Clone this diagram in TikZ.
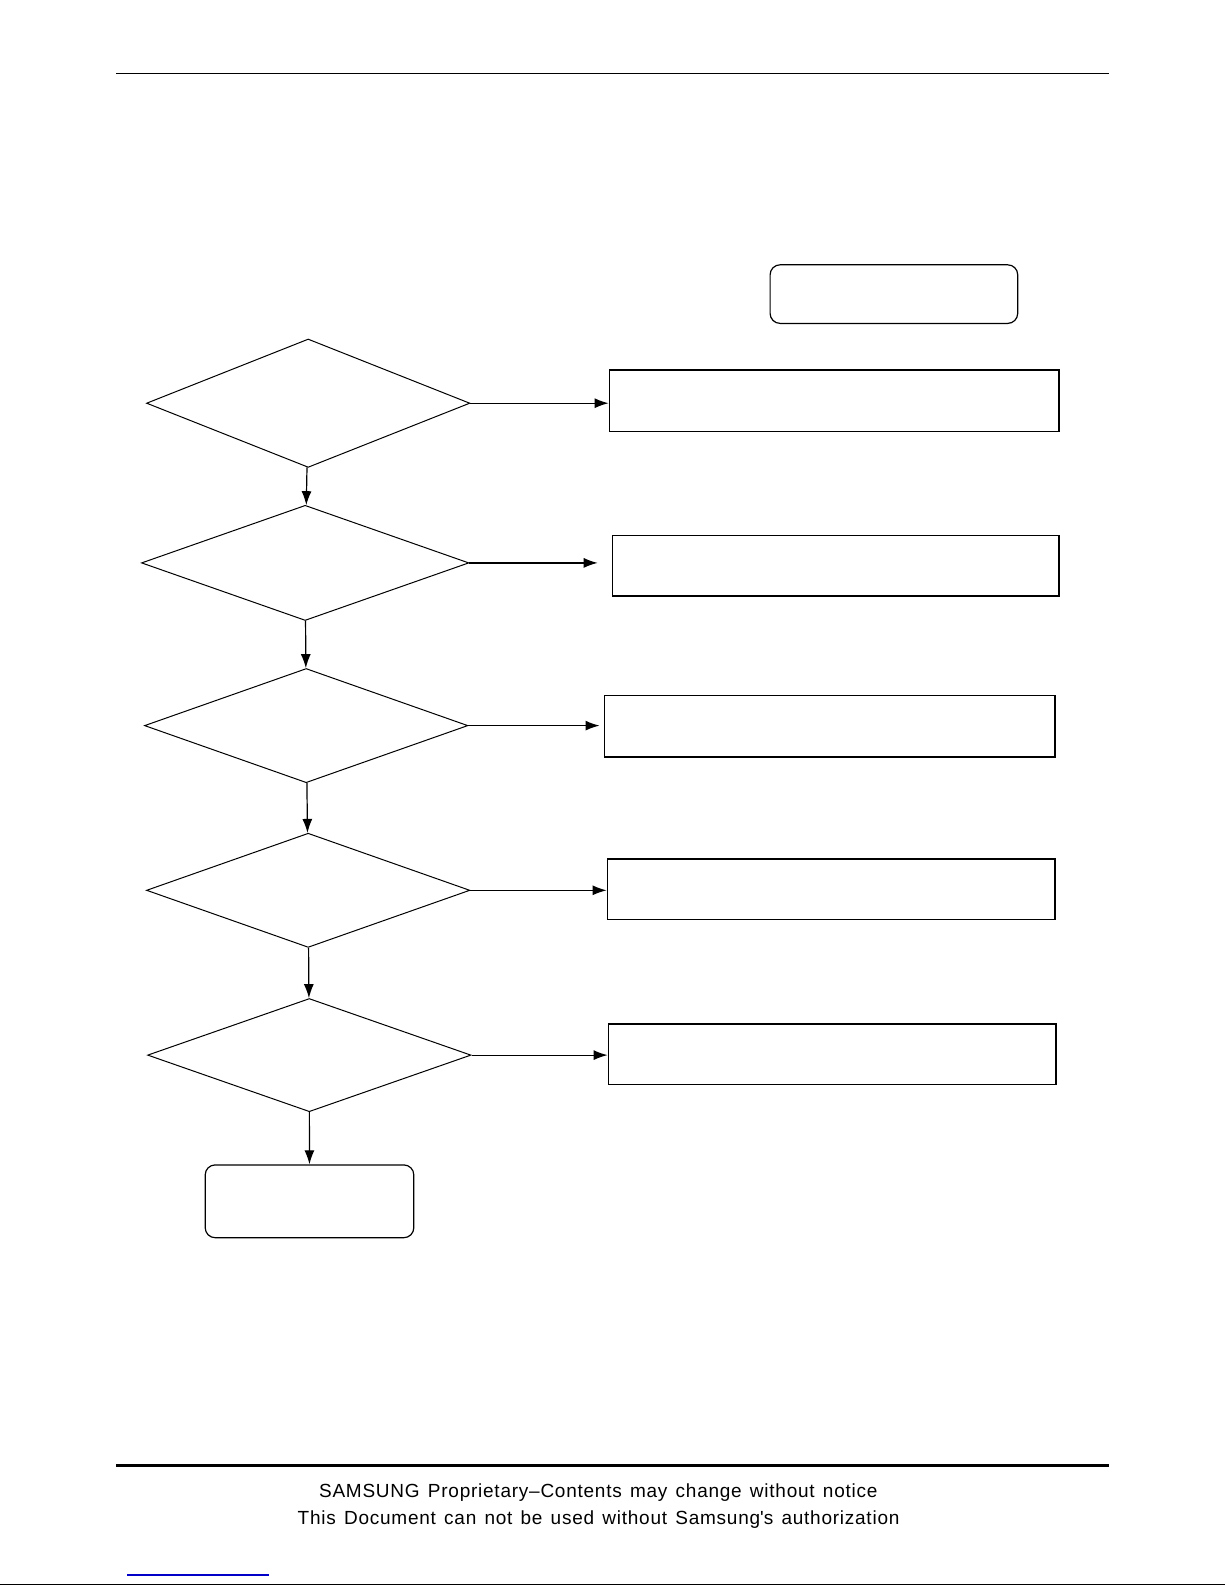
\documentclass[tikz,border=0pt]{standalone}
\usepackage{fontspec}
\setmainfont{Liberation Sans}
\usetikzlibrary{positioning}
\usetikzlibrary{shapes.geometric}
\usetikzlibrary{arrows.meta}
\newcommand\footfont{\fontsize{9.5pt}{11pt}\selectfont\addfontfeature{LetterSpace=4}\spaceskip=4.1pt\relax}
\tikzset{
	decision/.style={diamond, draw=black, line width=0.5pt, inner sep=0pt, minimum width=161.7pt, minimum height=64.2pt},
	action/.style={rectangle, draw=black, line width=0.8pt, inner sep=0pt, minimum width=224.4pt, minimum height=30.8pt},
	terminal/.style={rectangle, rounded corners=5pt, draw=black, line width=0.6pt, inner sep=0pt},
	flow/.style={-{Latex[length=7pt,width=5pt]}, line width=0.6pt, color=black},
	footnote/.style={inner sep=0pt, font=\footfont}
}

\begin{document}
\begin{tikzpicture}
				[x=0.5pt,y=-0.5pt]
				\useasboundingbox (0,0) rectangle (1225,1585);
				% page rules
				\draw [line width=0.8pt] (116,73.3) -- (1109,73.3);
				\draw [line width=1.5pt] (116,1465.7) -- (1109,1465.7);
				\draw [line width=0.5pt] (0,1584) -- (1225,1584);
				\draw [line width=0.8pt, color={rgb,255:red,0;green,0;blue,200}] (127,1575) -- (268.7,1575);
				% start and end
				\node (start) [terminal, minimum width=123.8pt, minimum height=29.3pt] at (893.9, 294.1)  {};
				\node (end) [terminal, minimum width=104.3pt, minimum height=36.4pt] at (309.5, 1201.3)  {};
				% checks
				\node (d1) [decision] at (308.2, 403.2)  {};
				\node (d2) [decision, minimum width=163.7pt, minimum height=57.6pt] at (305.2, 562.9)  {};
				\node (d3) [decision, minimum height=57.1pt] at (306.2, 725.6)  {};
				\node (d4) [decision, minimum height=57.1pt] at (308.2, 890.3)  {};
				\node (d5) [decision, minimum height=56.6pt] at (309.3, 1055.1)  {};
				% actions
				\node (b1) [action, minimum width=224.9pt] at (834.3, 400.7)  {};
				\node (b2) [action, minimum width=223.3pt, minimum height=30.3pt] at (835.8, 565.9)  {};
				\node (b3) [action, minimum width=225.4pt] at (829.7, 726.1)  {};
				\node (b4) [action, minimum width=223.8pt, minimum height=30.3pt] at (831.2, 889.3)  {};
				\node (b5) [action, minimum width=223.8pt, minimum height=30.3pt] at (832.2, 1054.1)  {};
				\draw [flow] (d1) -- (d2);
				\draw [flow] (d2) -- (d3);
				\draw [flow] (d3) -- (d4);
				\draw [flow] (d4) -- (d5);
				\draw [flow] (d5) -- (end);
				\draw [flow] (d1.east) -- (d1.east -| b1.west);
				\draw [flow, shorten >=7pt] (d2.east) -- (d2.east -| b2.west);
				\draw [flow, shorten >=2pt] (d3.east) -- (d3.east -| b3.west);
				\draw [flow] (d4.east) -- (d4.east -| b4.west);
				\draw [flow] (d5.east) -- (d5.east -| b5.west);
				% footer
				\node (note1) [footnote] at (598.3, 1493)  {SAMSUNG Proprietary–Contents may change without notice};
				\node (note2) [footnote] at (598.6, 1519.5)  {This Document can not be used without Samsung\textquotesingle s authorization};
		\end{tikzpicture}
\end{document}
